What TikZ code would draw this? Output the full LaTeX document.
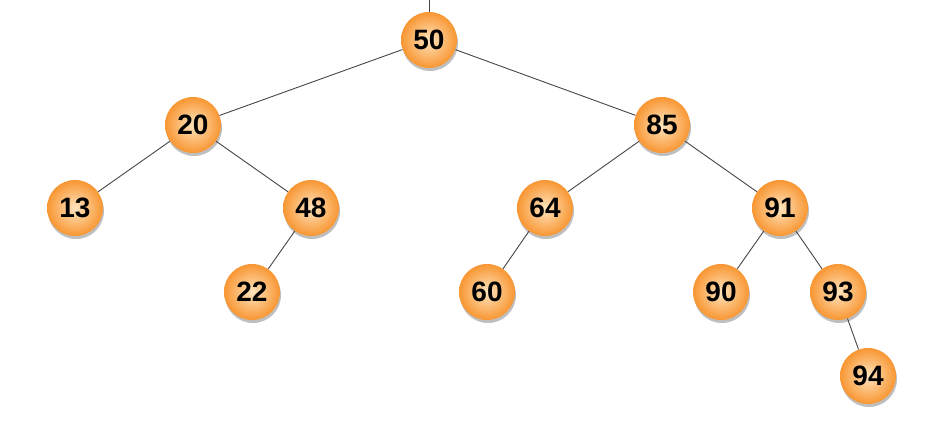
\documentclass[tikz,border=0pt]{standalone}
\usepackage{fontspec}
\setmainfont{Liberation Sans}
\usetikzlibrary{shadows}
\definecolor{ballin}{RGB}{255,228,190}
\definecolor{ballout}{RGB}{248,150,50}
\definecolor{edgecol}{RGB}{70,70,70}
\newcommand{\ballfont}{\fontsize{28}{28}\selectfont\bfseries}
\tikzset{
  ball/.style={circle, minimum size=56pt, inner sep=0pt, shading=radial,
    inner color=ballin, outer color=ballout,
    drop shadow={shadow xshift=1pt, shadow yshift=-3pt, opacity=0.25, fill=black},
    text=black},
  edge/.style={draw=edgecol, line width=0.9pt}
}
\begin{document}
\begin{tikzpicture}[x=1pt,y=-1pt]
\useasboundingbox (0,0) rectangle (948,426);
\coordinate (top) at (429,0);
\node[ball] (n50) at (429,40) {\ballfont 50};
\node[ball] (n20) at (193,125) {\ballfont 20};
\node[ball] (n85) at (662,125) {\ballfont 85};
\node[ball] (n13) at (75,208) {\ballfont 13};
\node[ball] (n48) at (311,208) {\ballfont 48};
\node[ball] (n64) at (545,208) {\ballfont 64};
\node[ball] (n91) at (780,208) {\ballfont 91};
\node[ball] (n22) at (252,292) {\ballfont 22};
\node[ball] (n60) at (487,292) {\ballfont 60};
\node[ball] (n90) at (721,292) {\ballfont 90};
\node[ball] (n93) at (838,292) {\ballfont 93};
\node[ball] (n94) at (868,376) {\ballfont 94};
\draw[edge] (top) -- (n50);
\draw[edge] (n50) -- (n20);
\draw[edge] (n50) -- (n85);
\draw[edge] (n20) -- (n13);
\draw[edge] (n20) -- (n48);
\draw[edge] (n48) -- (n22);
\draw[edge] (n85) -- (n64);
\draw[edge] (n85) -- (n91);
\draw[edge] (n64) -- (n60);
\draw[edge] (n91) -- (n90);
\draw[edge] (n91) -- (n93);
\draw[edge] (n93) -- (n94);
\end{tikzpicture}
\end{document}
